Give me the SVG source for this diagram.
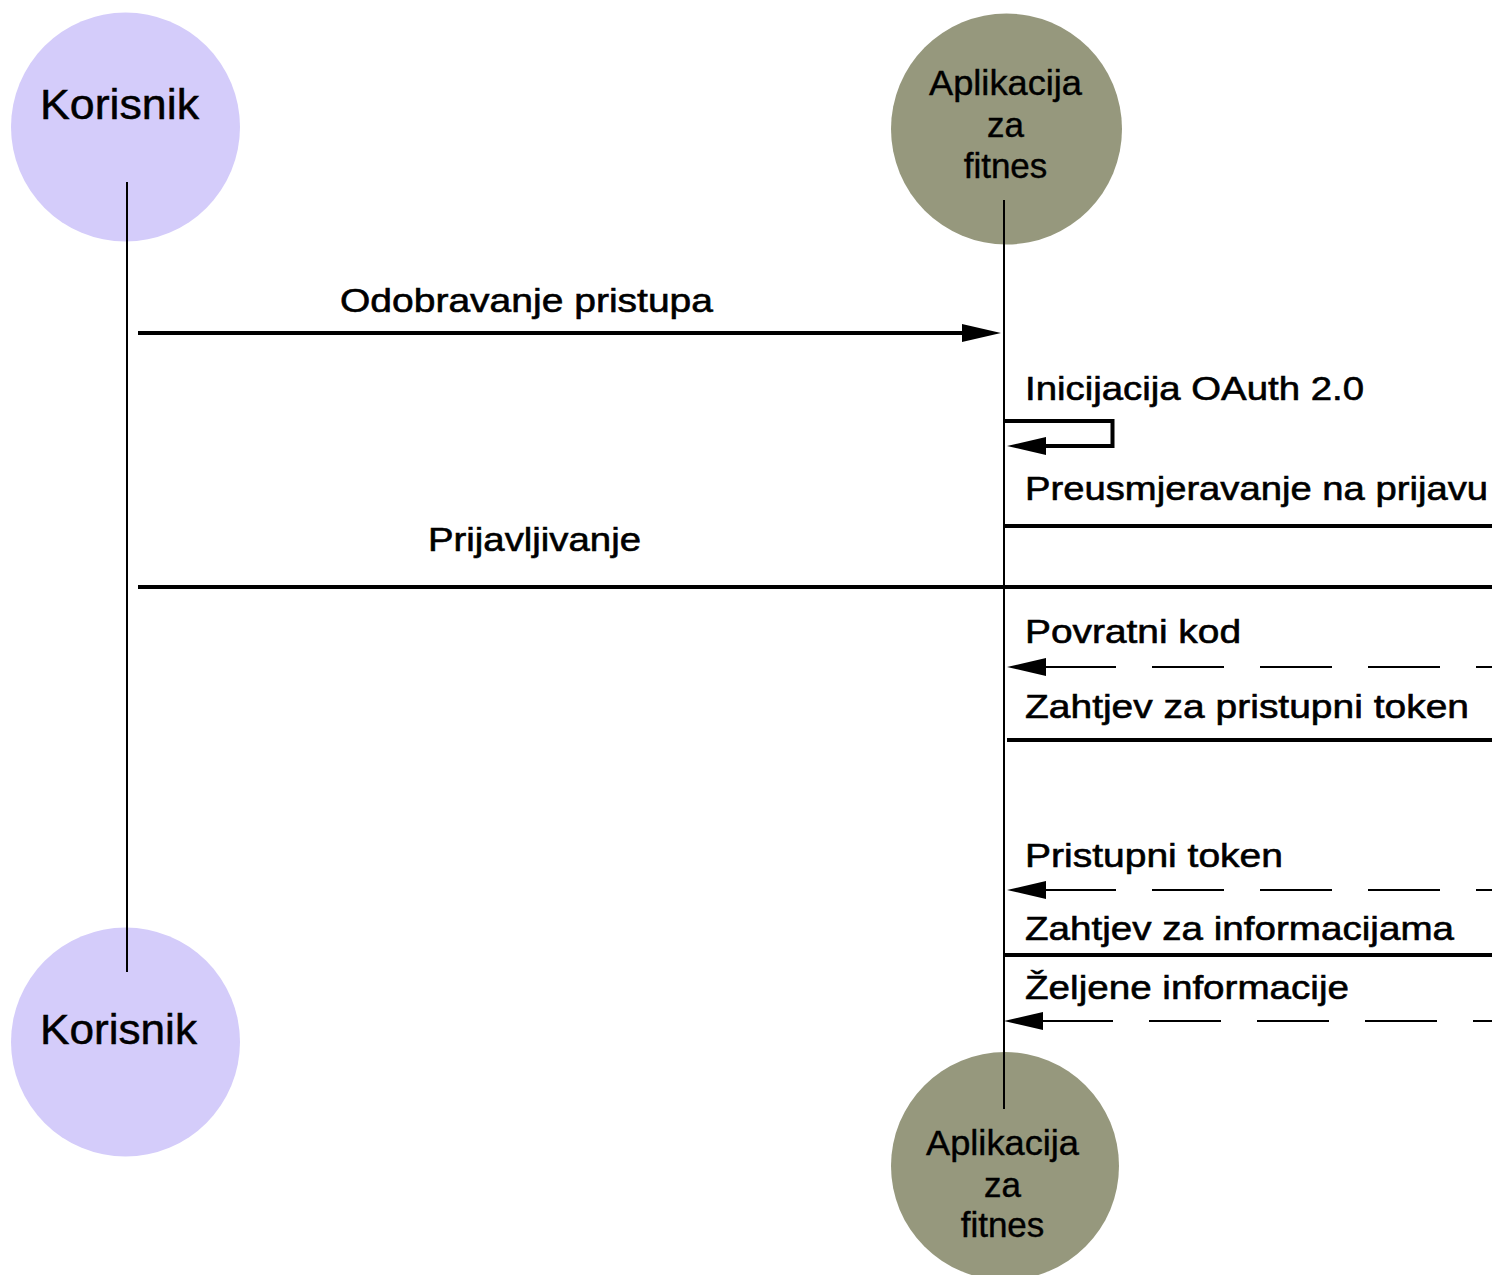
<svg xmlns="http://www.w3.org/2000/svg" width="1492" height="1275" viewBox="0 0 1492 1275">
<style>
.t{font-family:"Liberation Sans",Arial,sans-serif;font-size:34px;fill:#000;stroke:#000;stroke-width:0.6}
.n{font-family:"Liberation Sans",Arial,sans-serif;font-size:42px;fill:#000;text-anchor:middle;stroke:#000;stroke-width:0.5}
.a{font-family:"Liberation Sans",Arial,sans-serif;font-size:35px;fill:#000;text-anchor:middle;stroke:#000;stroke-width:0.4}
.life{stroke:#000;stroke-width:2;fill:none}
.msg{stroke:#000;stroke-width:4;fill:none}
.ret{stroke:#000;stroke-width:2;fill:none;stroke-dasharray:72 36}
.head{fill:#000}
</style>
<rect width="1492" height="1275" fill="#fff"/>
<g id="korisnik-top">
<circle cx="125.5" cy="127" r="114.5" fill="#d4ccfa"/>
<text class="n" x="119.5" y="119" textLength="159" lengthAdjust="spacingAndGlyphs">Korisnik</text>
</g>
<g id="aplikacija-top">
<circle cx="1006.5" cy="129" r="115.5" fill="#96987d"/>
<text class="a" x="1005.5" y="95" textLength="153" lengthAdjust="spacingAndGlyphs">Aplikacija</text>
<text class="a" x="1005.5" y="137">za</text>
<text class="a" x="1005.5" y="178">fitnes</text>
</g>
<g id="korisnik-bottom">
<circle cx="125.5" cy="1042" r="114.5" fill="#d4ccfa"/>
<text class="n" x="118.5" y="1044" textLength="157" lengthAdjust="spacingAndGlyphs">Korisnik</text>
</g>
<g id="aplikacija-bottom">
<circle cx="1005" cy="1166" r="114" fill="#96987d"/>
<text class="a" x="1002.5" y="1155" textLength="153" lengthAdjust="spacingAndGlyphs">Aplikacija</text>
<text class="a" x="1002.5" y="1197">za</text>
<text class="a" x="1002.5" y="1237">fitnes</text>
</g>
<g id="connectors">
<line class="life" x1="127" y1="182" x2="127" y2="972"/>
<line class="life" x1="1004" y1="200" x2="1004" y2="1109"/>

<line class="msg" x1="138" y1="333" x2="965" y2="333"/>
<polygon class="head" points="1001,333 962,324 962,342"/>

<path class="msg" stroke-width="3.5" d="M1004,421 H1112.5 V446 H1042"/>
<polygon class="head" points="1007,446 1046,437 1046,455"/>

<line class="msg" x1="1004" y1="526" x2="1492" y2="526"/>
<line class="msg" x1="138" y1="587" x2="1492" y2="587"/>

<line class="ret" x1="1044" y1="667" x2="1492" y2="667"/>
<polygon class="head" points="1007,667 1046,658 1046,676"/>

<line class="msg" x1="1007" y1="740" x2="1492" y2="740"/>

<line class="ret" x1="1044" y1="890" x2="1492" y2="890"/>
<polygon class="head" points="1007,890 1046,881 1046,899"/>

<line class="msg" x1="1004" y1="955" x2="1492" y2="955"/>

<line class="ret" stroke-dasharray="70 36" x1="1041" y1="1021" x2="1492" y2="1021"/>
<polygon class="head" points="1004,1021 1043,1012 1043,1030"/>
</g>
<g id="labels">
<text class="t" x="340" y="312" textLength="373" lengthAdjust="spacingAndGlyphs">Odobravanje pristupa</text>
<text class="t" x="1025" y="400" textLength="339" lengthAdjust="spacingAndGlyphs">Inicijacija OAuth 2.0</text>
<text class="t" x="1025" y="500" textLength="463" lengthAdjust="spacingAndGlyphs">Preusmjeravanje na prijavu</text>
<text class="t" x="428" y="551" textLength="213" lengthAdjust="spacingAndGlyphs">Prijavljivanje</text>
<text class="t" x="1025" y="643" textLength="216" lengthAdjust="spacingAndGlyphs">Povratni kod</text>
<text class="t" x="1025" y="718" textLength="444" lengthAdjust="spacingAndGlyphs">Zahtjev za pristupni token</text>
<text class="t" x="1025" y="867" textLength="258" lengthAdjust="spacingAndGlyphs">Pristupni token</text>
<text class="t" x="1025" y="940" textLength="429" lengthAdjust="spacingAndGlyphs">Zahtjev za informacijama</text>
<text class="t" x="1025" y="999" textLength="324" lengthAdjust="spacingAndGlyphs">Željene informacije</text>
</g>
</svg>
